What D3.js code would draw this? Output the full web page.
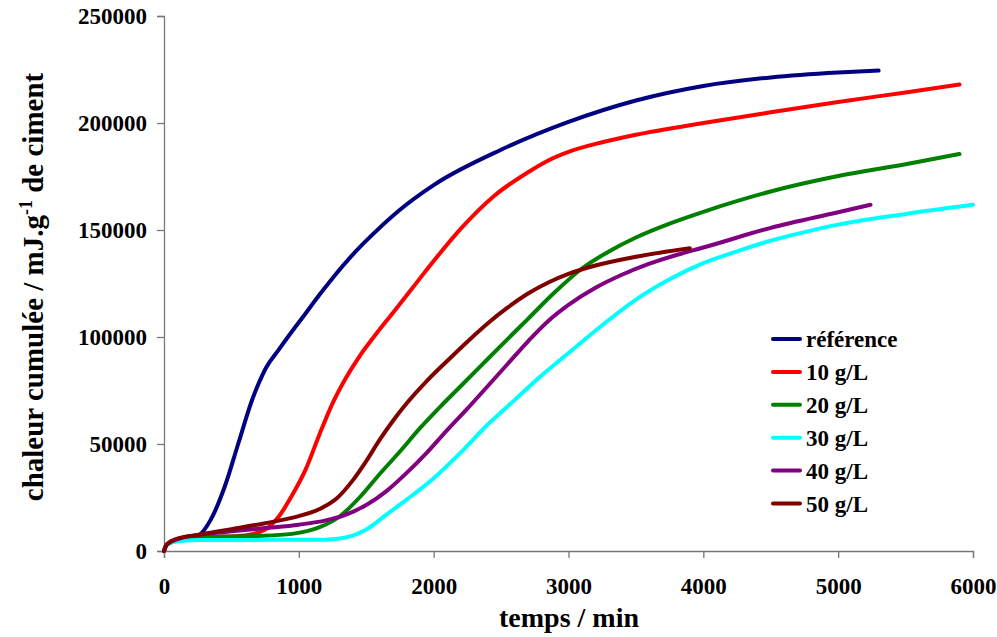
<!DOCTYPE html>
<html><head><meta charset="utf-8">
<script src="https://cdn.jsdelivr.net/npm/d3@7"></script>
<style>body{margin:0;background:#fff}</style>
</head><body>
<svg id="c" width="997" height="637"></svg>
<script>
const seriesNames = ["référence", "10 g/L", "20 g/L", "30 g/L", "40 g/L", "50 g/L"];
const xTicks = [0, 1000, 2000, 3000, 4000, 5000, 6000];
const yTicks = [0, 50000, 100000, 150000, 200000, 250000];

const refT = [0, 20, 100, 250, 350, 450, 550, 650, 700, 760, 850, 960, 1050, 1150, 1250, 1400, 1500, 1750, 2000, 2500, 3000, 3500, 4000, 4500, 5000, 5300];
const refV = [0, 3000, 5000, 7000, 15000, 30000, 50000, 70000, 78000, 86000, 94000, 103500, 111000, 119500, 127500, 138500, 145000, 159500, 171000, 187500, 200500, 210500, 217300, 221300, 223600, 224500];

const g10T = [0, 20, 100, 300, 600, 750, 850, 950, 1050, 1150, 1250, 1350, 1450, 1550, 1700, 1850, 2000, 2200, 2450, 2700, 2850, 3000, 3250, 3500, 4000, 4500, 5000, 5500, 5900];
const g10V = [0, 3000, 5000, 6300, 7300, 10000, 16000, 26000, 38000, 54000, 69000, 81000, 91000, 99500, 111500, 123500, 135500, 150500, 166000, 177000, 182500, 186500, 191000, 194500, 200000, 205000, 209800, 214300, 218000];

const g20T = [0, 20, 100, 300, 700, 950, 1150, 1300, 1450, 1600, 1750, 1900, 2050, 2200, 2350, 2500, 2700, 2900, 3100, 3300, 3500, 3750, 4000, 4500, 5000, 5500, 5900];
const g20V = [0, 3000, 5000, 6500, 7000, 8000, 11000, 16000, 25000, 36000, 46500, 57500, 67500, 77000, 86500, 96000, 108500, 121000, 132000, 140000, 146500, 153000, 158500, 168000, 175200, 180700, 185500];

const g30T = [0, 20, 100, 300, 800, 1200, 1350, 1500, 1650, 1800, 2000, 2200, 2400, 2600, 2800, 3000, 3250, 3500, 3750, 4000, 4250, 4500, 4750, 5000, 5500, 6000];
const g30V = [0, 2800, 4500, 5100, 5200, 5300, 6300, 10000, 17000, 24000, 34000, 46000, 59000, 70500, 82000, 92500, 105500, 117500, 127000, 134500, 140000, 145000, 149000, 152500, 157500, 161800];

const g40T = [0, 20, 100, 250, 500, 750, 1000, 1200, 1350, 1500, 1650, 1800, 1950, 2100, 2250, 2400, 2550, 2700, 2850, 3000, 3200, 3400, 3600, 3800, 4000, 4500, 5000, 5240];
const g40V = [0, 3000, 5500, 7500, 9200, 10700, 12300, 14300, 17000, 21500, 28000, 36500, 46000, 56500, 66500, 77000, 87500, 98000, 107500, 115000, 123000, 129200, 134300, 138300, 141800, 151000, 158300, 161800];

const g50T = [0, 20, 100, 250, 500, 750, 1000, 1150, 1280, 1400, 1500, 1600, 1700, 1800, 1950, 2100, 2250, 2400, 2550, 2700, 2850, 3000, 3200, 3500, 3900];
const g50V = [0, 3000, 5800, 7500, 10200, 13000, 16300, 19500, 24500, 33000, 42000, 52000, 61000, 69000, 79500, 88800, 97800, 106300, 113800, 120300, 125500, 129500, 133400, 137500, 141500];

const seriesT = [refT, g10T, g20T, g30T, g40T, g50T];
const seriesV = [refV, g10V, g20V, g30V, g40V, g50V];
const colors = ["#000080", "#FF0000", "#008000", "#00FFFF", "#800080", "#800000"];

const svg = d3.select("#c");
const font = "'Liberation Serif','Times New Roman',serif";
const x = d3.scaleLinear().domain([0, 6000]).range([164, 973]);
const y = d3.scaleLinear().domain([0, 250000]).range([551, 16]);

// axes
const xAxis = svg.append("g").attr("transform", "translate(0,551)")
  .call(d3.axisBottom(x).tickValues(xTicks).tickSize(7).tickPadding(20).tickFormat(d3.format("d")));
const yAxis = svg.append("g").attr("transform", "translate(164,0)")
  .call(d3.axisLeft(y).tickValues(yTicks).tickSize(7).tickPadding(10).tickFormat(d3.format("d")));
[xAxis, yAxis].forEach(a => {
  a.select(".domain").attr("stroke", "#777").attr("stroke-width", 1.3);
  a.selectAll(".tick line").attr("stroke", "#777").attr("stroke-width", 1.3);
  a.selectAll("text").attr("font-family", font).attr("font-weight", "bold")
    .attr("font-size", 23).attr("fill", "#000");
});

// lines
const line = d3.line().curve(d3.curveMonotoneX);
seriesT.forEach((ts, i) => {
  const pts = ts.map((t, j) => [x(t), y(seriesV[i][j])]);
  svg.append("path").attr("d", line(pts)).attr("fill", "none")
    .attr("stroke", colors[i]).attr("stroke-width", 4)
    .attr("stroke-linecap", "round").attr("stroke-linejoin", "round");
});

// axis titles
svg.append("text").attr("x", 569).attr("y", 627).attr("text-anchor", "middle")
  .attr("font-family", font).attr("font-weight", "bold").attr("font-size", 28)
  .text("temps / min");
const yt = svg.append("text").attr("transform", "translate(43,287) rotate(-90)")
  .attr("text-anchor", "middle").attr("font-family", font).attr("font-weight", "bold")
  .attr("font-size", 29);
yt.append("tspan").text("chaleur cumulée / mJ.g");
yt.append("tspan").attr("dy", -11).attr("font-size", 18).text("-1");
yt.append("tspan").attr("dy", 11).text(" de ciment");

// legend
const lg = svg.append("g");
seriesNames.forEach((n, i) => {
  const cy = 339 + i * 32.9;
  lg.append("line").attr("x1", 773).attr("x2", 800).attr("y1", cy).attr("y2", cy)
    .attr("stroke", colors[i]).attr("stroke-width", 4).attr("stroke-linecap", "round");
  lg.append("text").attr("x", 806).attr("y", cy + 8).attr("font-family", font)
    .attr("font-weight", "bold").attr("font-size", 23).text(n);
});
</script>
</body></html>
